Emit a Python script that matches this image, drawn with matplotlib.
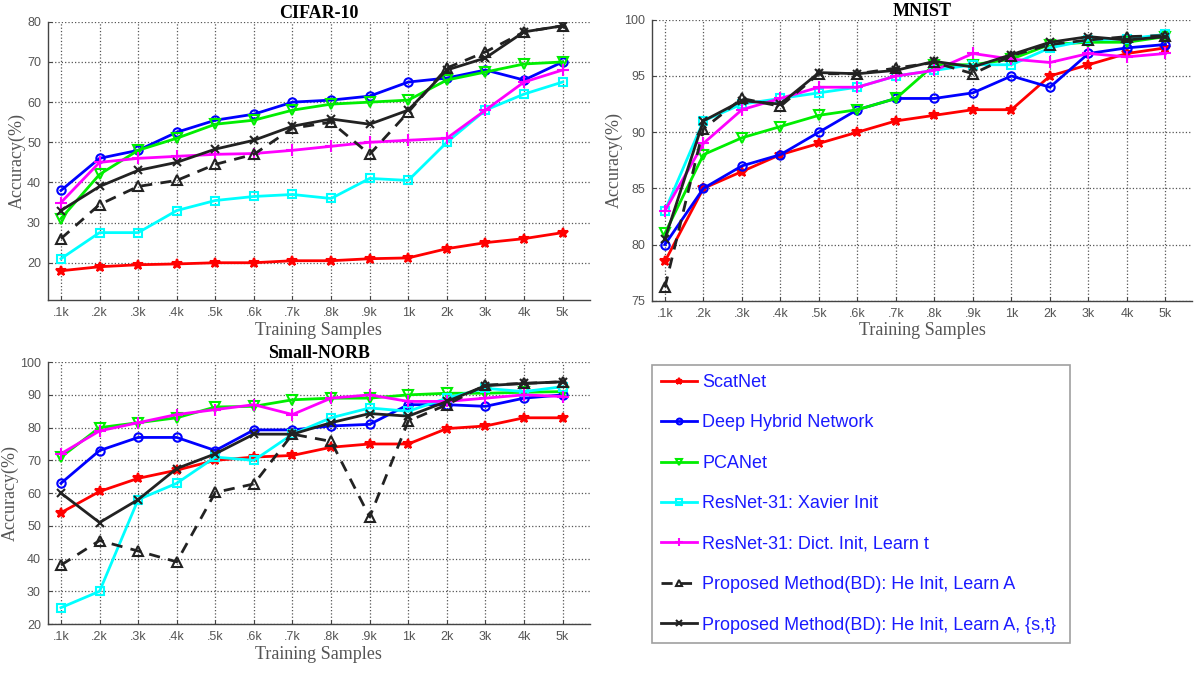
import numpy as np
import matplotlib
matplotlib.use("Agg")
import matplotlib.pyplot as plt

# x categories (training samples)
x_labels = [".1k", ".2k", ".3k", ".4k", ".5k", ".6k", ".7k", ".8k", ".9k",
            "1k", "2k", "3k", "4k", "5k"]

method_names = ["ScatNet", "Deep Hybrid Network", "PCANet",
                "ResNet-31: Xavier Init", "ResNet-31: Dict. Init, Learn t",
                "Proposed Method(BD): He Init, Learn A",
                "Proposed Method(BD): He Init, Learn A, {s,t}"]

# CIFAR-10
cifar_scatnet = [18, 19, 19.5, 19.7, 20, 20, 20.5, 20.5, 21, 21.2, 23.5, 25, 26, 27.5]
cifar_hybrid = [38, 46, 48, 52.5, 55.5, 57, 60, 60.5, 61.5, 65, 66, 68, 65.5, 70]
cifar_pcanet = [31, 42, 48, 51, 54.5, 55.5, 58, 59.5, 60, 60.5, 65.5, 67.5, 69.5, 70]
cifar_xavier = [21, 27.5, 27.5, 33, 35.5, 36.5, 37, 36, 41, 40.5, 50, 58, 62, 65]
cifar_dict = [35, 45, 46, 46.5, 47, 47.2, 48, 49, 50, 50.5, 51, 58, 65, 68]
cifar_bd_a = [26, 34.5, 39, 40.5, 44.5, 47, 53.5, 55, 47, 57.5, 68.5, 72.5, 77.5, 79]
cifar_bd_st = [33, 39, 43, 45, 48.3, 50.5, 54, 55.8, 54.5, 58, 68, 71, 77.5, 79]

# MNIST
mnist_scatnet = [78.5, 85, 86.5, 88, 89, 90, 91, 91.5, 92, 92, 95, 96, 97, 97.5]
mnist_hybrid = [80, 85, 87, 88, 90, 92, 93, 93, 93.5, 95, 94, 97, 97.5, 97.8]
mnist_pcanet = [81, 88, 89.5, 90.5, 91.5, 92, 93, 96, 96, 96.5, 97.8, 98, 98, 98.5]
mnist_xavier = [83, 91, 92.5, 93, 93.5, 94, 95, 95.5, 96, 96, 97.5, 98.2, 98.3, 98.7]
mnist_dict = [83, 89, 92, 93, 94, 94, 95, 95.5, 97, 96.5, 96.2, 97, 96.7, 97]
mnist_bd_a = [76.2, 90.3, 93, 92.3, 95.2, 95.2, 95.7, 96.2, 95.2, 96.8, 97.8, 98.2, 98.5, 98.6]
mnist_bd_st = [80.5, 91, 92.8, 92.5, 95.3, 95.2, 95.5, 96.3, 95.8, 96.9, 98, 98.5, 98.2, 98.5]

# Small-NORB
norb_scatnet = [54, 60.5, 64.5, 67, 70, 71, 71.5, 74, 75, 75, 79.7, 80.5, 83, 83]
norb_hybrid = [63, 73, 77, 77, 73, 79.3, 79.3, 80.5, 81, 87, 87, 86.5, 89, 90]
norb_pcanet = [71, 80, 81.5, 83, 86.3, 86.5, 88.5, 89, 89, 90, 90.5, 90.5, 90.8, 91]
norb_xavier = [25, 30, 58, 63, 71, 70, 78, 83, 86, 85, 89, 92, 91, 92.5]
norb_dict = [72, 79, 81.5, 84, 85.5, 87, 84, 89, 90, 88, 88, 89, 90, 89.5]
norb_bd_a = [38, 45.5, 42.3, 39, 60.2, 62.8, 78, 75.8, 52.7, 82, 87, 93, 93.5, 94]
norb_bd_st = [60, 51, 58, 67.5, 72, 78, 78, 81.5, 84.3, 83.5, 88, 92.8, 93.5, 94]

# line styles for each method
styles = [
    dict(color="#ff0000", marker="*", ms=7, mfc="#ff0000", ls="-"),
    dict(color="#0000ff", marker="o", ms=6, mfc="none", ls="-"),
    dict(color="#00ee00", marker="v", ms=7, mfc="none", ls="-"),
    dict(color="#00ffff", marker="s", ms=5.5, mfc="none", ls="-"),
    dict(color="#ff00ff", marker="+", ms=8, mfc="none", ls="-"),
    dict(color="#222222", marker="^", ms=7, mfc="none", ls=(0, (4, 3))),
    dict(color="#222222", marker="x", ms=6, mfc="none", ls="-"),
]

SERIF = ["Liberation Serif", "DejaVu Serif"]
SANS = ["Liberation Sans", "DejaVu Sans"]
GREY = "#555555"


def draw_panel(ax, title, series, ylim, yticks):
    x = np.arange(1, len(x_labels) + 1)
    lines = []
    for vals, st in zip(series, styles):
        ln, = ax.plot(x, vals, color=st["color"], ls=st["ls"], lw=2,
                      marker=st["marker"], ms=st["ms"], mfc=st["mfc"],
                      mec=st["color"], mew=1.5)
        lines.append(ln)
    ax.set_xlim(0.66, 14.7)
    ax.set_ylim(*ylim)
    ax.set_xticks(x)
    ax.set_xticklabels(x_labels, family=SANS, fontsize=9, color=GREY)
    ax.set_yticks(yticks)
    ax.set_yticklabels([str(t) for t in yticks], family=SANS, fontsize=9, color=GREY)
    ax.tick_params(direction="in", length=3, color="#444444", pad=5)
    ax.grid(True, ls=":", color="#555555", lw=0.9)
    ax.spines["top"].set_visible(False)
    ax.spines["right"].set_visible(False)
    for s in ["left", "bottom"]:
        ax.spines[s].set_color("#444444")
        ax.spines[s].set_linewidth(1.0)
    ax.set_title(title, family=SERIF, fontweight="bold", fontsize=13, pad=2)
    ax.set_xlabel("Training Samples", family=SERIF, fontsize=13, color=GREY, labelpad=2)
    ax.set_ylabel("Accuracy(%)", family=SERIF, fontsize=13, color=GREY, labelpad=1)
    return lines


fig = plt.figure(figsize=(11.96, 6.82), dpi=100)

ax1 = fig.add_axes([0.040, 0.560, 0.453, 0.408])
draw_panel(ax1, "CIFAR-10",
           [cifar_scatnet, cifar_hybrid, cifar_pcanet, cifar_xavier,
            cifar_dict, cifar_bd_a, cifar_bd_st],
           (10.7, 80), [20, 30, 40, 50, 60, 70, 80])

ax2 = fig.add_axes([0.545, 0.559, 0.452, 0.412])
draw_panel(ax2, "MNIST",
           [mnist_scatnet, mnist_hybrid, mnist_pcanet, mnist_xavier,
            mnist_dict, mnist_bd_a, mnist_bd_st],
           (75, 100), [75, 80, 85, 90, 95, 100])

ax3 = fig.add_axes([0.040, 0.085, 0.453, 0.384])
handles = draw_panel(ax3, "Small-NORB",
                     [norb_scatnet, norb_hybrid, norb_pcanet, norb_xavier,
                      norb_dict, norb_bd_a, norb_bd_st],
                     (20, 100), [20, 30, 40, 50, 60, 70, 80, 90, 100])

# legend in its own empty axes
lax = fig.add_axes([0.545, 0.057, 0.350, 0.408])
lax.axis("off")
leg = lax.legend(handles, method_names, loc="upper left", mode="expand",
                 bbox_to_anchor=(0, 0, 1, 1), frameon=True, fancybox=False,
                 prop={"family": SANS, "size": 13}, labelspacing=1.3,
                 handlelength=2.0, handletextpad=0.3, borderaxespad=0,
                 borderpad=0.5, markerscale=0.7)
leg.get_frame().set_edgecolor("#888888")
leg.get_frame().set_linewidth(1.2)
for t in leg.get_texts():
    t.set_color("#1a1aff")

fig.savefig("out.png", dpi=100)
